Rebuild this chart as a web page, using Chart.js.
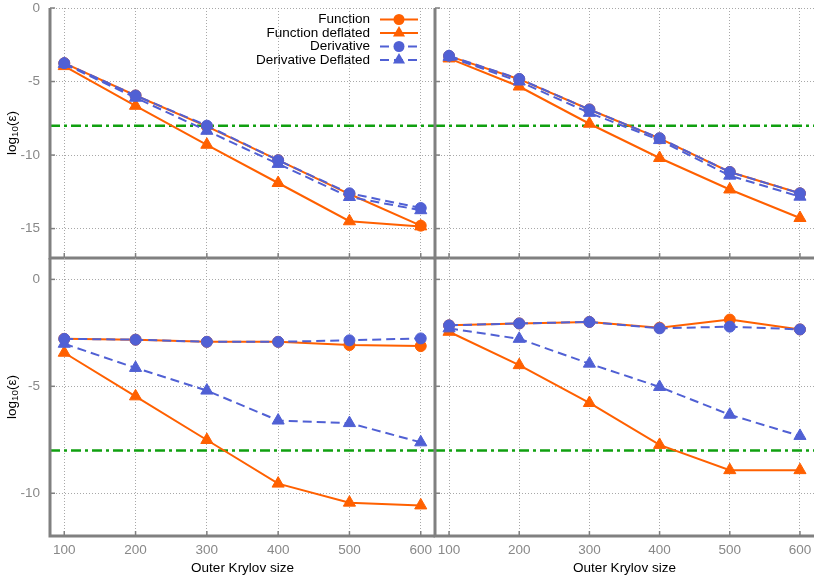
<!DOCTYPE html>
<html lang="en">
<head>
<meta charset="UTF-8">
<title>Outer Krylov size</title>
<script src="https://cdn.jsdelivr.net/npm/chart.js@4.4.0/dist/chart.umd.min.js"></script>
<style>
    body { margin: 0; background: #ffffff; }
    #wrap { position: relative; width: 822px; height: 576px; }
    #wrap canvas { position: absolute; left: 0; top: 0; }
</style>
</head>
<body>
<div id="wrap">
    <canvas id="tl" width="822" height="576"></canvas>
    <canvas id="tr" width="822" height="576"></canvas>
    <canvas id="bl" width="822" height="576"></canvas>
    <canvas id="br" width="822" height="576"></canvas>
</div>
<script>
    // x values (outer Krylov size) and tick labels
    var outerSizes = [100, 200, 300, 400, 500, 600];
    var xTicks = [100, 200, 300, 400, 500, 600];
    var yTicksTop = [0, -5, -10, -15];
    var yTicksBottom = [0, -5, -10];
    var threshold = -8;

    var seriesNames = ['Function', 'Function deflated', 'Derivative', 'Derivative Deflated'];

    // top left
    var tlFunction = [-3.75, -5.95, -8.05, -10.35, -12.65, -14.8];
    var tlFunctionDefl = [-3.95, -6.65, -9.3, -11.9, -14.5, -14.85];
    var tlDerivative = [-3.75, -5.95, -8.0, -10.35, -12.6, -13.6];
    var tlDerivativeDefl = [-3.8, -6.1, -8.35, -10.6, -12.85, -13.75];

    // top right
    var trFunction = [-3.27, -4.84, -6.9, -8.87, -11.15, -12.6];
    var trFunctionDefl = [-3.43, -5.34, -7.87, -10.2, -12.34, -14.28];
    var trDerivative = [-3.25, -4.82, -6.9, -8.85, -11.15, -12.6];
    var trDerivativeDefl = [-3.32, -5.0, -7.13, -8.98, -11.4, -12.83];

    // bottom left
    var blFunction = [-2.78, -2.82, -2.92, -2.92, -3.07, -3.12];
    var blFunctionDefl = [-3.43, -5.47, -7.51, -9.55, -10.44, -10.57];
    var blDerivative = [-2.78, -2.82, -2.92, -2.92, -2.85, -2.76];
    var blDerivativeDefl = [-3.01, -4.14, -5.2, -6.6, -6.72, -7.62];

    // bottom right
    var brFunction = [-2.15, -2.06, -1.99, -2.26, -1.88, -2.34];
    var brFunctionDefl = [-2.45, -4.01, -5.78, -7.74, -8.92, -8.92];
    var brDerivative = [-2.15, -2.06, -1.99, -2.29, -2.21, -2.34];
    var brDerivativeDefl = [-2.29, -2.78, -3.94, -5.03, -6.33, -7.32];

    var ORANGE = '#ff6000';
    var BLUE = '#5060d4';
    var GREEN = '#10a010';
    var FRAME = '#808080';
    var FONT = '"Liberation Sans", Arial, sans-serif';
    var FONT_SIZE = 13.5;

    function pts(values) {
        return values.map(function (v, i) { return { x: outerSizes[i], y: v }; });
    }

    function series(label, values, color, dashed, marker, order) {
        return {
            label: label,
            data: pts(values),
            borderColor: color,
            backgroundColor: color,
            borderWidth: 2,
            borderDash: dashed ? [9, 5] : [],
            pointStyle: marker,
            pointRadius: marker == 'triangle' ? 7 : 5.5,
            pointBorderWidth: 1,
            pointBorderColor: color,
            pointBackgroundColor: color,
            tension: 0,
            fill: false,
            order: order
        };
    }

    function drawMarker(ctx, style, x, y, r) {
        ctx.beginPath();
        if (style == 'triangle') {
            for (var k = 0; k < 3; k++) {
                var a = k * 2 * Math.PI / 3;
                var px = x + Math.sin(a) * r, py = y - Math.cos(a) * r;
                if (k == 0) ctx.moveTo(px, py); else ctx.lineTo(px, py);
            }
            ctx.closePath();
        } else {
            ctx.arc(x, y, r, 0, Math.PI * 2);
        }
        ctx.fill();
    }

    // thick gray left / bottom axis lines with small inward ticks
    var framePlugin = {
        id: 'frame',
        afterDraw: function (chart) {
            var ctx = chart.ctx, a = chart.chartArea;
            var xs = chart.scales.x, ys = chart.scales.y;
            ctx.save();
            ctx.strokeStyle = FRAME;
            ctx.lineWidth = 1.5;
            xs.ticks.forEach(function (t) {
                var px = xs.getPixelForValue(t.value);
                ctx.beginPath();
                ctx.moveTo(px, a.bottom);
                ctx.lineTo(px, a.bottom - 5);
                ctx.stroke();
            });
            ys.ticks.forEach(function (t) {
                var py = ys.getPixelForValue(t.value);
                ctx.beginPath();
                ctx.moveTo(a.left, py);
                ctx.lineTo(a.left + 5, py);
                ctx.stroke();
            });
            ctx.lineWidth = 3;
            ctx.beginPath();
            ctx.moveTo(a.left, a.top);
            ctx.lineTo(a.left, a.bottom + 1.5);
            ctx.moveTo(a.left - 1.5, a.bottom);
            ctx.lineTo(a.right, a.bottom);
            ctx.stroke();
            ctx.restore();
        }
    };

    // y title with a real subscript: log10(ε)
    var yTitlePlugin = {
        id: 'ytitle',
        afterDraw: function (chart, args, opts) {
            if (!opts.show) return;
            var ctx = chart.ctx, a = chart.chartArea;
            var big = FONT_SIZE + 'px ' + FONT, small = (FONT_SIZE * 0.72) + 'px ' + FONT;
            ctx.save();
            ctx.translate(12, (a.top + a.bottom) / 2);
            ctx.rotate(-Math.PI / 2);
            ctx.fillStyle = '#000';
            ctx.textBaseline = 'middle';
            ctx.textAlign = 'left';
            ctx.font = big;
            var w1 = ctx.measureText('log').width, w3 = ctx.measureText('(ε)').width;
            ctx.font = small;
            var w2 = ctx.measureText('10').width;
            var x = -(w1 + w2 + w3) / 2;
            ctx.font = big;
            ctx.fillText('log', x, 0);
            ctx.font = small;
            ctx.fillText('10', x + w1, 3.5);
            ctx.font = big;
            ctx.fillText('(ε)', x + w1 + w2, 0);
            ctx.restore();
        }
    };

    // gnuplot style key: text right aligned, sample after it
    var keyPlugin = {
        id: 'key',
        afterDraw: function (chart, args, opts) {
            if (!opts.show) return;
            var ctx = chart.ctx, a = chart.chartArea;
            var items = chart.data.datasets.filter(function (d) { return !d.noKey; });
            ctx.save();
            ctx.font = FONT_SIZE + 'px ' + FONT;
            ctx.textAlign = 'right';
            ctx.textBaseline = 'middle';
            items.forEach(function (d, i) {
                var y = a.top + 11.5 + i * 13.5;
                ctx.fillStyle = '#000';
                ctx.fillText(d.label, a.right - 65, y);
                ctx.strokeStyle = d.borderColor;
                ctx.lineWidth = 2;
                ctx.setLineDash(d.borderDash);
                ctx.beginPath();
                ctx.moveTo(a.right - 55, y);
                ctx.lineTo(a.right - 17, y);
                ctx.stroke();
                ctx.setLineDash([]);
                ctx.fillStyle = d.borderColor;
                drawMarker(ctx, d.pointStyle, a.right - 36, y, d.pointRadius);
            });
            ctx.restore();
        }
    };

    function makePanel(id, data, cfg) {
        var datasets = [
            series(seriesNames[0], data[0], ORANGE, false, 'circle', 2),
            series(seriesNames[1], data[1], ORANGE, false, 'triangle', 3),
            series(seriesNames[2], data[2], BLUE, true, 'circle', 0),
            series(seriesNames[3], data[3], BLUE, true, 'triangle', 1),
            {
                noKey: true,
                data: [{ x: 80, y: threshold }, { x: 620, y: threshold }],
                borderColor: GREEN,
                borderWidth: 2.5,
                borderDash: [10, 4, 3, 4],
                pointRadius: 0,
                fill: false,
                order: 10
            }
        ];

        return new Chart(document.getElementById(id), {
            type: 'line',
            data: { datasets: datasets },
            plugins: [framePlugin, yTitlePlugin, keyPlugin],
            options: {
                responsive: false,
                animation: false,
                events: [],
                layout: { padding: cfg.padding },
                plugins: {
                    legend: { display: false },
                    tooltip: { enabled: false },
                    ytitle: { show: cfg.yLabels },
                    key: { show: !!cfg.key }
                },
                scales: {
                    x: {
                        type: 'linear',
                        min: 80,
                        max: 620,
                        afterBuildTicks: function (s) {
                            s.ticks = xTicks.map(function (v) { return { value: v }; });
                        },
                        afterFit: function (s) {
                            s.height = cfg.xLabels ? 40 : 0;
                            s.paddingLeft = 0;
                            s.paddingRight = 0;
                        },
                        grid: { color: '#a8a8a8', lineWidth: 1, drawTicks: false },
                        border: { display: false, dash: [1, 2] },
                        ticks: {
                            display: cfg.xLabels,
                            autoSkip: false,
                            maxRotation: 0,
                            padding: 6,
                            color: '#888888',
                            font: { family: FONT, size: FONT_SIZE }
                        },
                        title: {
                            display: cfg.xLabels,
                            text: 'Outer Krylov size',
                            color: '#000000',
                            padding: { top: 0, bottom: 0 },
                            font: { family: FONT, size: FONT_SIZE }
                        }
                    },
                    y: {
                        type: 'linear',
                        min: cfg.yMin,
                        max: cfg.yMax,
                        afterBuildTicks: function (s) {
                            s.ticks = cfg.yTicks.map(function (v) { return { value: v }; });
                        },
                        afterFit: function (s) {
                            s.width = cfg.yLabels ? 50 : 0;
                            s.paddingTop = 0;
                            s.paddingBottom = 0;
                        },
                        grid: { color: '#a8a8a8', lineWidth: 1, drawTicks: false },
                        border: { display: false, dash: [1, 2] },
                        ticks: {
                            display: cfg.yLabels,
                            padding: 10,
                            color: '#888888',
                            font: { family: FONT, size: FONT_SIZE }
                        }
                    }
                }
            }
        });
    }

    makePanel('tl', [tlFunction, tlFunctionDefl, tlDerivative, tlDerivativeDefl], {
        padding: { left: 0, right: 387, top: 5, bottom: 318 },
        yMin: -17, yMax: 0, yTicks: yTicksTop, yLabels: true, xLabels: false, key: true
    });
    makePanel('tr', [trFunction, trFunctionDefl, trDerivative, trDerivativeDefl], {
        padding: { left: 435, right: 1, top: 5, bottom: 318 },
        yMin: -17, yMax: 0, yTicks: yTicksTop, yLabels: false, xLabels: false
    });
    makePanel('bl', [blFunction, blFunctionDefl, blDerivative, blDerivativeDefl], {
        padding: { left: 0, right: 387, top: 258, bottom: 0 },
        yMin: -12, yMax: 1, yTicks: yTicksBottom, yLabels: true, xLabels: true
    });
    makePanel('br', [brFunction, brFunctionDefl, brDerivative, brDerivativeDefl], {
        padding: { left: 435, right: 1, top: 258, bottom: 0 },
        yMin: -12, yMax: 1, yTicks: yTicksBottom, yLabels: false, xLabels: true
    });
</script>
</body>
</html>
